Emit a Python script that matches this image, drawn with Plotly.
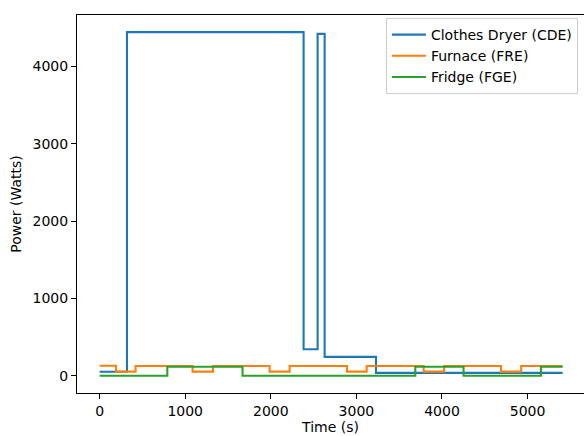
import plotly.graph_objects as go

# Clothes Dryer (CDE)
cde_t = [0, 320, 2383, 2547, 2629, 3229, 5409]
cde_w = [52, 4444, 344, 4422, 245, 38, 38]
# Furnace (FRE)
fre_t = [0, 192, 420, 1086, 1325, 1986, 2220, 2890, 3120, 3786, 4025, 4690, 4925, 5409]
fre_w = [130, 55, 128, 55, 128, 55, 128, 55, 128, 55, 128, 55, 128, 128]
# Fridge (FGE)
fge_t = [0, 791, 1670, 3688, 4252, 5156, 5409]
fge_w = [2, 118, 2, 118, 2, 118, 118]

series = [
    ("Clothes Dryer (CDE)", cde_t, cde_w, "#1f77b4"),
    ("Furnace (FRE)", fre_t, fre_w, "#ff7f0e"),
    ("Fridge (FGE)", fge_t, fge_w, "#2ca02c"),
]

x_ticks = [0, 1000, 2000, 3000, 4000, 5000]
y_ticks = [0, 1000, 2000, 3000, 4000]

fig = go.Figure()
for name, t, w, c in series:
    fig.add_trace(go.Scatter(x=t, y=w, mode="lines", name=name,
                             line=dict(color=c, width=2.1, shape="hv")))

font = dict(family="DejaVu Sans", size=14, color="black")
legend_font = dict(family="DejaVu Sans", size=14, color="black")
fig.update_layout(
    width=584, height=436,
    margin=dict(l=77, r=0, t=15, b=43),
    paper_bgcolor="white", plot_bgcolor="white",
    font=font,
    showlegend=True,
    legend=dict(x=0.988, y=0.992, xanchor="right", yanchor="top",
                bgcolor="rgba(255,255,255,0.8)", bordercolor="#cccccc", borderwidth=1,
                font=legend_font, tracegroupgap=0, itemwidth=34),
)
fig.update_xaxes(range=[-264, 5659], tickvals=x_ticks, ticktext=[str(v) for v in x_ticks],
                 showgrid=False, zeroline=False, showline=True, linecolor="black",
                 linewidth=1, mirror=True, ticks="outside", ticklen=5, tickcolor="black",
                 title=dict(text="Time (s)", font=font, standoff=4))
fig.update_yaxes(range=[-222, 4666], tickvals=y_ticks, ticktext=[str(v) for v in y_ticks],
                 showgrid=False, zeroline=False, showline=True, linecolor="black",
                 linewidth=1, mirror=False, ticks="outside", ticklen=5, tickcolor="black",
                 title=dict(text="Power (Watts)", font=font, standoff=7))

fig.write_html("out.html", config={"displayModeBar": False},
               post_script="document.body.style.margin='0';document.body.style.overflow='hidden';")
